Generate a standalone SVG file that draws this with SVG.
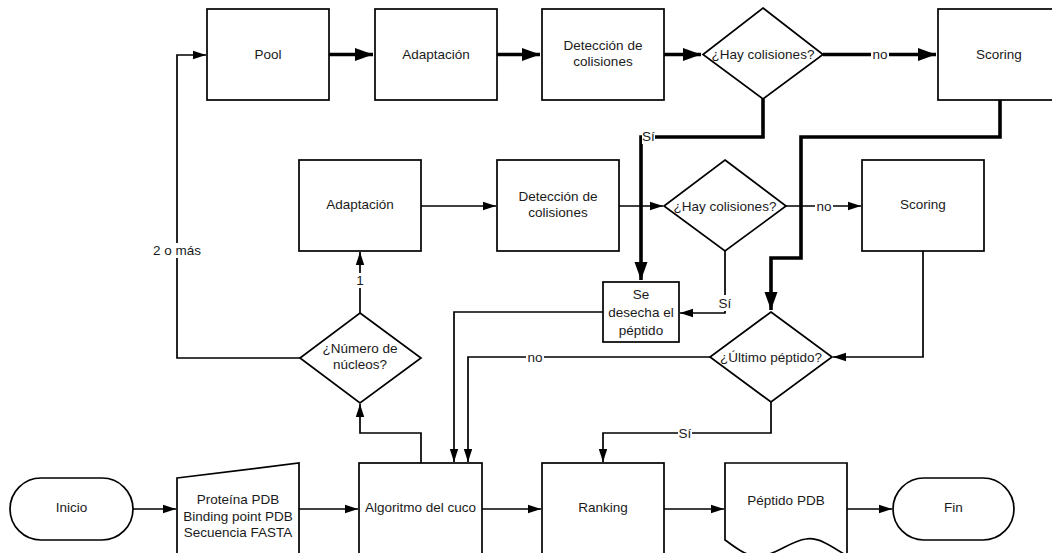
<svg xmlns="http://www.w3.org/2000/svg" width="1052" height="553" viewBox="0 0 1052 553">
<defs>
<style>
.n{fill:#fff;stroke:#000;stroke-width:1.7}
.t{font-family:"Liberation Sans",Arial,sans-serif;font-size:13.5px;fill:#1a1a1a;text-anchor:middle}
.c{fill:none;stroke:#000;stroke-width:1.7}
.k{fill:none;stroke:#000;stroke-width:3.6}
.bg{fill:#fff;stroke:none}
</style>
<marker id="a" markerUnits="userSpaceOnUse" markerWidth="14" markerHeight="10" refX="13" refY="5" orient="auto"><path d="M0,0.8 L13,5 L0,9.2 Z" fill="#000"/></marker>
<marker id="b" markerUnits="userSpaceOnUse" markerWidth="19" markerHeight="14" refX="18" refY="7" orient="auto"><path d="M0,0.5 L18,7 L0,13.5 Z" fill="#000"/></marker>
</defs>
<rect width="1052" height="553" fill="#fff"/>
<g id="connectors">
<path class="k" d="M329,54.5 H373" marker-end="url(#b)"/>
<path class="k" d="M497,54.5 H540" marker-end="url(#b)"/>
<path class="k" d="M664,54.5 H701" marker-end="url(#b)"/>
<path class="k" d="M823,54.5 H936" marker-end="url(#b)"/>
<path class="c" d="M421,206 H496" marker-end="url(#a)"/>
<path class="c" d="M619,206 H663" marker-end="url(#a)"/>
<path class="c" d="M786,206 H861" marker-end="url(#a)"/>
<path class="c" d="M725,251 V313 H680" marker-end="url(#a)"/>
<path class="c" d="M923,251 V357 H833" marker-end="url(#a)"/>
<path class="c" d="M603,312 H454 V462" marker-end="url(#a)"/>
<path class="c" d="M710,357 H468 V462" marker-end="url(#a)"/>
<path class="c" d="M771,402 V433 H603 V462" marker-end="url(#a)"/>
<path class="c" d="M421,463 V433 H360 V404" marker-end="url(#a)"/>
<path class="c" d="M360,313 V252" marker-end="url(#a)"/>
<path class="c" d="M300,358 H177 V55 H206" marker-end="url(#a)"/>
<path class="k" d="M763,99 V137 H641 V280" marker-end="url(#b)"/>
<path class="k" d="M1000,100 V137 H801 V258 H771 V310" marker-end="url(#b)"/>
<path class="c" d="M133,509 H176" marker-end="url(#a)"/>
<path class="c" d="M299,509 H358" marker-end="url(#a)"/>
<path class="c" d="M482,509 H541" marker-end="url(#a)"/>
<path class="c" d="M664,509 H724" marker-end="url(#a)"/>
<path class="c" d="M847,509 H892" marker-end="url(#a)"/>
<rect class="bg" x="871" y="47" width="18" height="15"/><text class="t" x="880" y="59">no</text>
<rect class="bg" x="642" y="129" width="13" height="15"/><text class="t" x="648.5" y="141">Sí</text>
<rect class="bg" x="815" y="199" width="18" height="15"/><text class="t" x="824" y="211">no</text>
<rect class="bg" x="718" y="295" width="14" height="16"/><text class="t" x="725" y="308">Sí</text>
<rect class="bg" x="526" y="350" width="18" height="15"/><text class="t" x="535" y="362">no</text>
<rect class="bg" x="678" y="425" width="14" height="16"/><text class="t" x="685" y="438">Sí</text>
<rect class="bg" x="355" y="273" width="10" height="15"/><text class="t" x="360" y="285">1</text>
<rect class="bg" x="152" y="243" width="50" height="15"/><text class="t" x="177" y="255">2 o más</text>
</g>
<g id="pool"><rect class="n" x="207" y="9" width="122" height="91"/><text class="t" x="268" y="59">Pool</text></g>
<g id="adaptacion1"><rect class="n" x="375" y="9" width="122" height="91"/><text class="t" x="436" y="59">Adaptación</text></g>
<g id="deteccion1"><rect class="n" x="542" y="9" width="122" height="91"/><text class="t" x="603" y="50">Detección de</text><text class="t" x="603" y="66">colisiones</text></g>
<g id="colisiones1"><path class="n" d="M763,8 L823,54.5 L763,99 L703,54.5 Z"/><text class="t" x="763" y="59">¿Hay colisiones?</text></g>
<g id="scoring1"><rect class="n" x="938" y="9" width="122" height="91"/><text class="t" x="999" y="59">Scoring</text></g>
<g id="adaptacion2"><rect class="n" x="299" y="160" width="122" height="91"/><text class="t" x="360" y="209">Adaptación</text></g>
<g id="deteccion2"><rect class="n" x="497" y="160" width="122" height="91"/><text class="t" x="558" y="201">Detección de</text><text class="t" x="558" y="217">colisiones</text></g>
<g id="colisiones2"><path class="n" d="M725,160 L786,206 L725,251 L664,206 Z"/><text class="t" x="725" y="211">¿Hay colisiones?</text></g>
<g id="scoring2"><rect class="n" x="862" y="160" width="122" height="91"/><text class="t" x="923" y="209">Scoring</text></g>
<g id="desecha"><rect class="n" x="603" y="282" width="76" height="60"/><text class="t" x="641" y="299">Se</text><text class="t" x="641" y="317">desecha el</text><text class="t" x="641" y="335">péptido</text></g>
<g id="nucleos"><path class="n" d="M360,313 L421,358 L360,403 L300,358 Z"/><text class="t" x="360" y="353">¿Número de</text><text class="t" x="360" y="369">núcleos?</text></g>
<g id="ultimo"><path class="n" d="M771,312 L832,357 L771,402 L710,357 Z"/><text class="t" x="771" y="362">¿Último péptido?</text></g>
<g id="inicio"><rect class="n" x="10" y="478" width="123" height="62" rx="31" ry="31"/><text class="t" x="71.5" y="512">Inicio</text></g>
<g id="entrada"><path class="n" d="M177,478 L299,463 L299,570 L177,570 Z"/><text class="t" x="238" y="504">Proteína PDB</text><text class="t" x="238" y="521">Binding point PDB</text><text class="t" x="238" y="537">Secuencia FASTA</text></g>
<g id="algoritmo"><rect class="n" x="359" y="463" width="123" height="110"/><text class="t" x="420.5" y="512">Algoritmo del cuco</text></g>
<g id="ranking"><rect class="n" x="542" y="463" width="122" height="110"/><text class="t" x="603" y="512">Ranking</text></g>
<g id="peptido"><path class="n" d="M725,463 H847 V556 C830,545 818,537 806,539 C790,541 775,556 758,556 C745,556 735,547 725,540 Z"/><text class="t" x="786" y="505">Péptido PDB</text></g>
<g id="fin"><rect class="n" x="893" y="478" width="121" height="62" rx="31" ry="31"/><text class="t" x="953.5" y="512">Fin</text></g>
</svg>
